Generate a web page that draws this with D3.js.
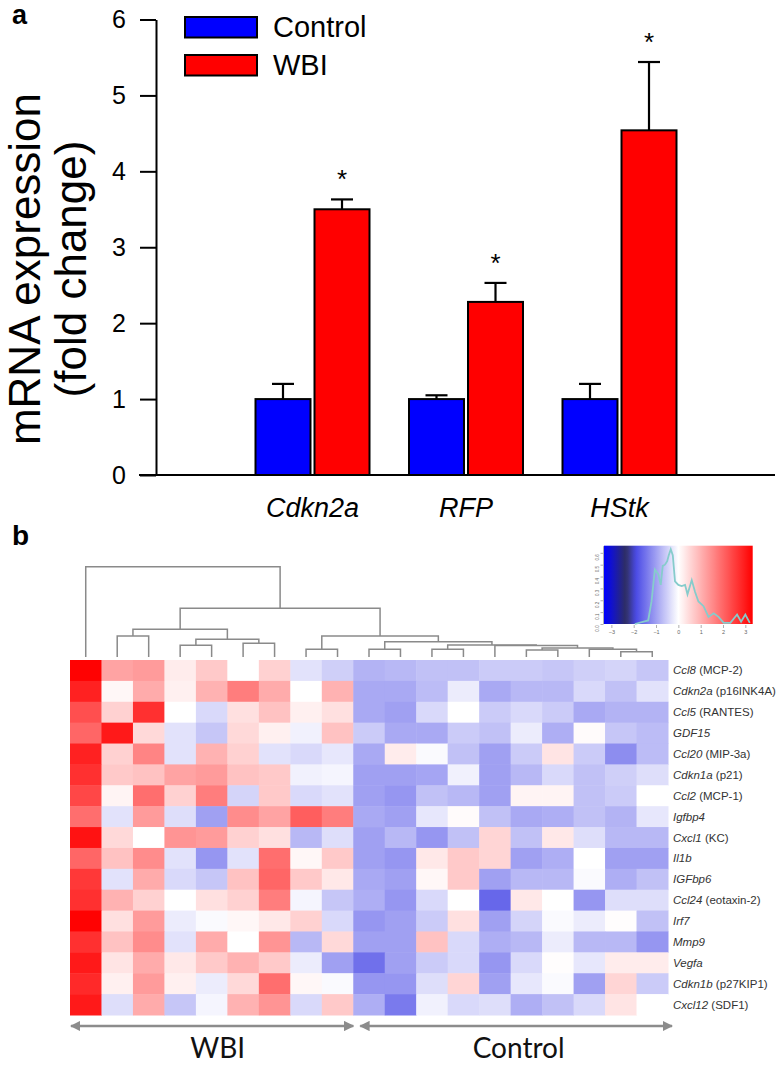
<!DOCTYPE html>
<html><head><meta charset="utf-8">
<script src="https://cdn.jsdelivr.net/npm/d3@7"></script>
<style>body{margin:0;background:#fff}svg{display:block}</style>
</head><body>
<svg id="chart" width="780" height="1065"></svg>
<script>
// ---------- Panel a data ----------
const genes = ["Cdkn2a", "RFP", "HStk"];
const seriesNames = ["Control", "WBI"];
const seriesColors = ["#0000ff", "#ff0000"];
const controlMean = [1.0, 1.0, 1.0];
const controlErr = [0.2, 0.05, 0.2];
const wbiMean = [3.5, 2.28, 4.54];
const wbiErr = [0.13, 0.25, 0.9];
const wbiSignificant = [true, true, true];
const yTicks = [0, 1, 2, 3, 4, 5, 6];

// ---------- Panel b data ----------
const rowGenes = ["Ccl8", "Cdkn2a", "Ccl5", "GDF15", "Ccl20", "Cdkn1a", "Ccl2", "Igfbp4", "Cxcl1", "Il1b", "IGFbp6", "Ccl24", "Irf7", "Mmp9", "Vegfa", "Cdkn1b", "Cxcl12"];
const rowAliases = ["(MCP-2)", "(p16INK4A)", "(RANTES)", "", "(MIP-3a)", "(p21)", "(MCP-1)", "", "(KC)", "", "", "(eotaxin-2)", "", "", "", "(p27KIP1)", "(SDF1)"];
const sampleGroups = ["WBI", "WBI", "WBI", "WBI", "WBI", "WBI", "WBI", "WBI", "WBI",
  "Control", "Control", "Control", "Control", "Control", "Control", "Control", "Control", "Control", "Control"];
const heatValues = [
  [3.3, 1.2, 1.3, 0.25, 0.7, 0.0, 0.6, -0.3, -0.5, -0.8, -0.75, -0.65, -0.65, -0.55, -0.55, -0.6, -0.5, -0.45, -0.6],
  [2.9, 0.1, 1.1, 0.2, 1.0, 1.7, 1.1, 0.0, 1.0, -0.9, -0.9, -0.7, -0.2, -0.9, -0.75, -0.75, -0.4, -0.65, -0.3],
  [2.3, 0.6, 2.7, 0.0, -0.4, 0.4, 0.8, 0.2, 0.4, -0.9, -1.0, -0.4, 0.0, -0.55, -0.4, -0.55, -0.9, -0.8, -0.8],
  [2.0, 3.0, 0.5, -0.3, -0.6, 0.5, 0.2, -0.15, 0.8, -0.55, -0.9, -0.9, -0.55, -0.65, -0.2, -0.85, 0.05, -0.6, -0.7],
  [2.9, 0.6, 1.6, -0.3, 1.0, 0.6, -0.3, -0.4, -0.25, -0.9, 0.25, -0.05, -0.65, -1.0, -0.55, 0.35, -0.55, -1.2, -0.7],
  [2.7, 0.7, 0.8, 1.2, 1.3, 0.8, 0.7, -0.15, -0.1, -1.0, -1.0, -0.95, -0.15, -1.0, -0.75, -0.4, -0.65, -0.5, -0.35],
  [2.4, 0.15, 1.9, 0.6, 1.7, -0.45, 0.7, -0.4, -0.3, -1.0, -1.1, -0.65, -0.75, -1.0, 0.15, 0.15, -0.65, -0.55, 0.0],
  [1.9, -0.3, 1.3, -0.35, -1.0, 1.5, 1.2, 2.1, 1.7, -0.9, -1.0, -0.25, 0.05, -0.65, -0.9, -0.85, -0.65, -0.8, -0.25],
  [3.1, 0.5, 0.0, 1.4, 1.3, 0.6, 0.4, -0.75, -0.35, -1.0, -0.75, -1.1, -0.65, 0.55, -0.65, 0.3, -0.35, -0.75, -0.75],
  [2.0, 0.8, 1.5, -0.3, -1.1, -0.3, 1.9, 0.1, 0.7, -1.0, -1.1, 0.3, 0.7, 0.55, -1.0, -0.85, 0.0, -1.0, -1.0],
  [2.6, -0.3, 1.1, -0.4, -0.6, 0.8, 2.0, 0.7, 0.3, -0.9, -1.0, 0.1, 0.7, -1.0, -0.75, -0.75, -0.05, -0.85, -0.65],
  [2.7, 1.0, 0.6, 0.0, 0.4, 0.6, 1.7, -0.1, -0.6, -0.85, -1.1, -0.4, 0.0, -1.6, 0.3, 0.0, -1.1, -0.35, -0.35],
  [3.3, 0.4, 1.3, -0.2, -0.05, 0.1, 0.3, 0.6, -0.4, -1.1, -1.0, -0.55, 0.4, -1.0, -0.45, -0.05, -0.2, 0.03, -0.65],
  [2.7, 0.8, 1.5, -0.3, 1.1, 0.0, 1.4, -0.75, 0.5, -1.0, -1.0, 0.8, -0.4, -0.85, -0.75, -0.2, -0.75, -0.75, -1.1],
  [3.0, 0.35, 1.1, 0.3, 0.7, 1.0, 0.7, -0.2, -1.0, -1.5, -1.0, -0.55, -0.4, -1.1, -0.4, 0.03, -0.25, 0.25, 0.25],
  [2.8, 0.2, 1.3, 0.2, -0.2, 0.5, 1.9, 0.1, -0.05, -1.1, -1.1, -0.35, 0.55, -1.0, -0.25, -0.05, -1.0, 0.55, -0.55],
  [3.0, -0.35, 1.1, -0.6, -0.1, 1.0, 1.4, -0.4, 0.7, -0.85, -1.4, -0.15, -0.4, -0.35, -0.85, -0.65, -0.4, 0.35, 0.0]
];
// column dendrogram: [mergeHeight, left, right]; numbers are column indices
const dendrogram = [10, 0,
  [5.39,
    [3.07, [2.33, 1, 2], [1.96, [1.30, 3, 4], [1.52, 5, 6]]],
    [2.33, [0.85, 7, 8],
      [1.69, [0.85, 9, 10],
        [1.33, [0.85, 11, 12],
          [1.26, 13, [1.0, [0.78, 14, 15], [0.85, 16, [0.59, 17, 18]]]]]]]]];
const colorDomain = [-3.33, -2.9, -2.35, -1.9, 0, 3.33];
const colorRange = ["#0000ff", "#1515c0", "#2f2f60", "#4a4ae6", "#ffffff", "#ff0000"];
const keyTicks = [-3, -2, -1, 0, 1, 2, 3];
const densityTicks = [0, 0.1, 0.2, 0.3, 0.4, 0.5, 0.6];
const densityX = [-1.95, -1.35, -1.2, -1.05, -0.9, -0.79, -0.7, -0.6, -0.5, -0.43, -0.34, -0.25, -0.15, 0, 0.15, 0.3, 0.41, 0.6, 0.75, 0.9, 1.13, 1.35, 1.58, 1.8, 2.03, 2.33, 2.63, 2.81, 3.0, 3.2];
const densityY = [0.0, 0.03, 0.19, 0.46, 0.42, 0.33, 0.49, 0.5, 0.53, 0.58, 0.63, 0.58, 0.36, 0.33, 0.32, 0.33, 0.25, 0.37, 0.27, 0.19, 0.15, 0.06, 0.09, 0.06, 0.01, 0.01, 0.08, 0.02, 0.08, 0.01];

// ================= Drawing =================
const svg = d3.select("#chart");
const AR = "'Liberation Sans', Arial, sans-serif";

// ---------- Panel a ----------
const gA = svg.append("g");
gA.append("text").attr("x", 12).attr("y", 24).text("a")
  .attr("font-family", AR).attr("font-weight", "bold").attr("font-size", 27);

const y = d3.scaleLinear().domain([0, 6]).range([475, 19.5]);
const x0 = d3.scaleBand().domain(genes).range([235.75, 696.25]).padding(0);
const x1 = d3.scaleBand().domain(seriesNames).range([19.75, 133.75]).paddingInner(0.068);
const axisX = 156;

const yAxis = gA.append("g").attr("transform", `translate(${axisX},0)`)
  .call(d3.axisLeft(y).tickValues(yTicks).tickFormat(d3.format("d")).tickSize(16).tickSizeOuter(0).tickPadding(14));
yAxis.selectAll("path,line").attr("stroke", "#000").attr("stroke-width", 2);
yAxis.selectAll("text").attr("font-family", AR).attr("font-size", 25).attr("fill", "#000");

// x baseline
gA.append("line").attr("x1", axisX - 17).attr("x2", 775).attr("y1", y(0)).attr("y2", y(0))
  .attr("stroke", "#000").attr("stroke-width", 2);

// y label
const labCenter = 269;
gA.append("text").attr("transform", `translate(40,${labCenter}) rotate(-90)`)
  .attr("text-anchor", "middle").attr("font-family", AR).attr("font-size", 44).text("mRNA expression");
gA.append("text").attr("transform", `translate(86,${labCenter}) rotate(-90)`)
  .attr("text-anchor", "middle").attr("font-family", AR).attr("font-size", 44).text("(fold change)");

const barData = [];
genes.forEach((g, i) => {
  barData.push({ gene: g, s: "Control", mean: controlMean[i], err: controlErr[i], sig: false });
  barData.push({ gene: g, s: "WBI", mean: wbiMean[i], err: wbiErr[i], sig: wbiSignificant[i] });
});
const colorOf = d3.scaleOrdinal().domain(seriesNames).range(seriesColors);

const bars = gA.append("g").selectAll("g").data(barData).join("g")
  .attr("transform", d => `translate(${x0(d.gene) + x1(d.s)},0)`);
// error bars (upper only)
bars.append("line").attr("x1", x1.bandwidth() / 2).attr("x2", x1.bandwidth() / 2)
  .attr("y1", d => y(d.mean)).attr("y2", d => y(d.mean + d.err))
  .attr("stroke", "#000").attr("stroke-width", 2.2);
bars.append("line").attr("x1", x1.bandwidth() / 2 - 11).attr("x2", x1.bandwidth() / 2 + 11)
  .attr("y1", d => y(d.mean + d.err)).attr("y2", d => y(d.mean + d.err))
  .attr("stroke", "#000").attr("stroke-width", 2.2);
bars.append("rect").attr("x", 0).attr("width", x1.bandwidth())
  .attr("y", d => y(d.mean)).attr("height", d => y(0) - y(d.mean))
  .attr("fill", d => colorOf(d.s)).attr("stroke", "#000").attr("stroke-width", 2);
bars.filter(d => d.sig).append("text").attr("x", x1.bandwidth() / 2)
  .attr("y", d => y(d.mean + d.err) - 11).attr("text-anchor", "middle")
  .attr("font-family", AR).attr("font-size", 26).text("*");

// category labels
gA.append("g").selectAll("text").data(genes).join("text")
  .attr("x", d => x0(d) + x0.bandwidth() / 2).attr("y", 517).attr("text-anchor", "middle")
  .attr("font-family", AR).attr("font-style", "italic").attr("font-size", 27).text(d => d);

// legend
const leg = gA.append("g").selectAll("g").data(seriesNames).join("g")
  .attr("transform", (d, i) => `translate(185,${17 + i * 38})`);
leg.append("rect").attr("width", 72).attr("height", 20.5).attr("fill", d => colorOf(d))
  .attr("stroke", "#000").attr("stroke-width", 2);
leg.append("text").attr("x", 88).attr("y", 20).attr("font-family", AR).attr("font-size", 29).text(d => d);

// ---------- Panel b ----------
const gB = svg.append("g");
gB.append("text").attr("x", 12).attr("y", 545).text("b")
  .attr("font-family", AR).attr("font-weight", "bold").attr("font-size", 28);

const cols = d3.range(sampleGroups.length);
const hx = d3.scaleBand().domain(cols).range([70, 668]);
const hy = d3.scaleBand().domain(rowGenes).range([660, 1015]);
const color = d3.scaleLinear().domain(colorDomain).range(colorRange).clamp(true);

const cells = [];
heatValues.forEach((row, r) => row.forEach((v, c) => cells.push({ r, c, v })));
gB.append("g").selectAll("rect").data(cells).join("rect")
  .attr("x", d => hx(d.c)).attr("y", d => hy(rowGenes[d.r]))
  .attr("width", hx.bandwidth() + 0.5).attr("height", hy.bandwidth() + 0.5)
  .attr("fill", d => color(d.v));

// row labels
const rl = gB.append("g").selectAll("text").data(rowGenes).join("text")
  .attr("x", 673).attr("y", d => hy(d) + hy.bandwidth() / 2 + 4)
  .attr("font-family", AR).attr("font-size", 11.5).attr("fill", "#333");
rl.append("tspan").attr("font-style", "italic").text(d => d);
rl.append("tspan").text((d, i) => rowAliases[i] ? " " + rowAliases[i] : "");

// dendrogram
const hY = d3.scaleLinear().domain([0, 10]).range([657, 566.7]);
const root = d3.hierarchy(dendrogram, d => Array.isArray(d) ? d.slice(1) : null);
root.eachAfter(n => {
  if (!n.children) { n.px = hx(n.data) + hx.bandwidth() / 2; n.py = hY(0); }
  else { n.px = d3.mean(n.children, c => c.px); n.py = hY(n.data[0]); }
});
gB.append("g").selectAll("path").data(root.descendants().filter(n => n.children)).join("path")
  .attr("d", n => {
    const [a, b] = n.children;
    return `M${a.px},${a.py}V${n.py}H${b.px}V${b.py}`;
  })
  .attr("fill", "none").attr("stroke", "#8a8a8a").attr("stroke-width", 1.5);

// group arrows
const defs = svg.append("defs");
defs.append("marker").attr("id", "arr").attr("viewBox", "0 0 10 10").attr("refX", 9).attr("refY", 5)
  .attr("markerWidth", 4).attr("markerHeight", 4).attr("orient", "auto-start-reverse")
  .append("path").attr("d", "M0,0L10,5L0,10z").attr("fill", "#8c8c8c");
const groupNames = ["WBI", "Control"];
const groupExtent = groupNames.map(g => {
  const idx = cols.filter(c => sampleGroups[c] === g);
  return [hx(d3.min(idx)), hx(d3.max(idx)) + hx.bandwidth()];
});
const arrowY = 1026;
gB.append("g").selectAll("line").data(groupNames).join("line")
  .attr("x1", (d, i) => groupExtent[i][0] + (i === 1 ? 7 : 1))
  .attr("x2", (d, i) => groupExtent[i][1] + (i === 1 ? 4 : 0))
  .attr("y1", arrowY).attr("y2", arrowY)
  .attr("stroke", "#8c8c8c").attr("stroke-width", 2.6)
  .attr("marker-start", "url(#arr)").attr("marker-end", "url(#arr)");
gB.append("g").selectAll("text").data(groupNames).join("text")
  .attr("x", (d, i) => (groupExtent[i][0] + groupExtent[i][1]) / 2 + (i === 0 ? 6 : 8))
  .attr("y", 1058).attr("text-anchor", "middle")
  .attr("font-family", "Lato, 'Open Sans', sans-serif").attr("font-size", 28).attr("fill", "#111")
  .text(d => d);

// color key
const keyX = d3.scaleLinear().domain([colorDomain[0], colorDomain[colorDomain.length - 1]]).range([604, 752.7]);
const keyY = d3.scaleLinear().domain([0, 0.66]).range([624, 545.7]);
const grad = defs.append("linearGradient").attr("id", "kg").attr("x1", "0%").attr("x2", "100%");
d3.range(0, 1.0001, 0.02).forEach(t => {
  grad.append("stop").attr("offset", (t * 100) + "%")
    .attr("stop-color", color(keyX.domain()[0] + t * (keyX.domain()[1] - keyX.domain()[0])));
});
gB.append("rect").attr("x", keyX.range()[0]).attr("y", keyY.range()[1])
  .attr("width", keyX.range()[1] - keyX.range()[0]).attr("height", keyY.range()[0] - keyY.range()[1])
  .attr("fill", "url(#kg)");
gB.append("path").datum(densityX.map((v, i) => [v, densityY[i]]))
  .attr("d", d3.line().x(d => keyX(d[0])).y(d => keyY(d[1])))
  .attr("fill", "none").attr("stroke", "#86cccc").attr("stroke-width", 1.8);
const kxa = gB.append("g").attr("transform", `translate(0,${keyY.range()[0] + 1})`)
  .call(d3.axisBottom(keyX).tickValues(keyTicks).tickFormat(d3.format("d")).tickSize(3).tickPadding(2));
kxa.select(".domain").remove();
kxa.selectAll("line").attr("stroke", "#777").attr("stroke-width", 0.6);
kxa.selectAll("text").attr("font-size", 5.5).attr("fill", "#666").attr("font-family", AR);
const kya = gB.append("g").attr("transform", `translate(${keyX.range()[0] - 1},0)`)
  .call(d3.axisLeft(keyY).tickValues(densityTicks).tickFormat(d3.format(".1f")).tickSize(2.5).tickPadding(1.5).tickSizeOuter(0));
kya.select(".domain").attr("stroke", "#777").attr("stroke-width", 0.6);
kya.selectAll("line").attr("stroke", "#777").attr("stroke-width", 0.6);
kya.selectAll("text").attr("font-size", 4.5).attr("fill", "#666").attr("font-family", AR)
  .attr("text-anchor", "middle").attr("dy", 0)
  .attr("transform", function () { return `translate(-4.5,0) rotate(-90)`; });
</script>
</body></html>
